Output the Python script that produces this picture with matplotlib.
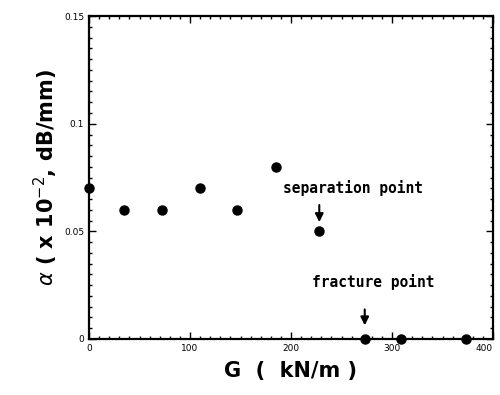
import matplotlib
matplotlib.use('Agg')
import matplotlib.pyplot as plt
from matplotlib.ticker import MultipleLocator

# data
G = [0, 35, 72, 110, 147, 185, 228, 273, 309, 373]
alpha = [0.07, 0.06, 0.06, 0.07, 0.06, 0.08, 0.05, 0.0, 0.0, 0.0]

sep_x, sep_y = 228, 0.05
frac_x, frac_y = 273, 0.0

fig = plt.figure(figsize=(5, 3.95), dpi=100)
ax = fig.add_axes([0.178, 0.142, 0.808, 0.817])

ax.plot(G, alpha, 'o', color='black', markersize=6.5, clip_on=False, zorder=5)

ax.set_xlim(0, 400)
ax.set_ylim(0, 0.15)
ax.set_xticks([0, 100, 200, 300, 400])
ax.set_xticklabels(['0', '100', '200', '300', '400'])
ax.set_yticks([0, 0.05, 0.1, 0.15])
ax.set_yticklabels(['0', '0.05', '0.1', '0.15'])
ax.xaxis.set_minor_locator(MultipleLocator(10))
ax.yaxis.set_minor_locator(MultipleLocator(0.005))
ax.tick_params(which='both', direction='in', top=True, right=True,
               labelsize=6.5, width=1)
ax.tick_params(which='major', length=5)
ax.tick_params(which='minor', length=2.5)
for s in ax.spines.values():
    s.set_linewidth(1.6)
# last x label sits on the figure edge, keep it inside
ax.get_xticklabels()[-1].set_horizontalalignment('right')

ax.set_xlabel('G  (  kN/m )', fontsize=15, fontweight='bold', labelpad=6)
ax.set_ylabel(r'$\alpha$' + ' ( x 10$^{-2}$, dB/mm)', fontsize=15,
              fontweight='bold', labelpad=3)

mono = dict(family='DejaVu Sans Mono', fontweight='bold', fontsize=10.5,
            ha='center')
ax.text(261, 0.068, 'separation point', **mono)
ax.annotate('', xy=(sep_x, sep_y + 0.003), xytext=(sep_x, sep_y + 0.0135),
            arrowprops=dict(arrowstyle='-|>', color='black', lw=1.5,
                            mutation_scale=12))
ax.text(281, 0.024, 'fracture point', **mono)
ax.annotate('', xy=(frac_x, frac_y + 0.005), xytext=(frac_x, frac_y + 0.015),
            arrowprops=dict(arrowstyle='-|>', color='black', lw=1.5,
                            mutation_scale=12))

fig.savefig('out.png', dpi=100)
